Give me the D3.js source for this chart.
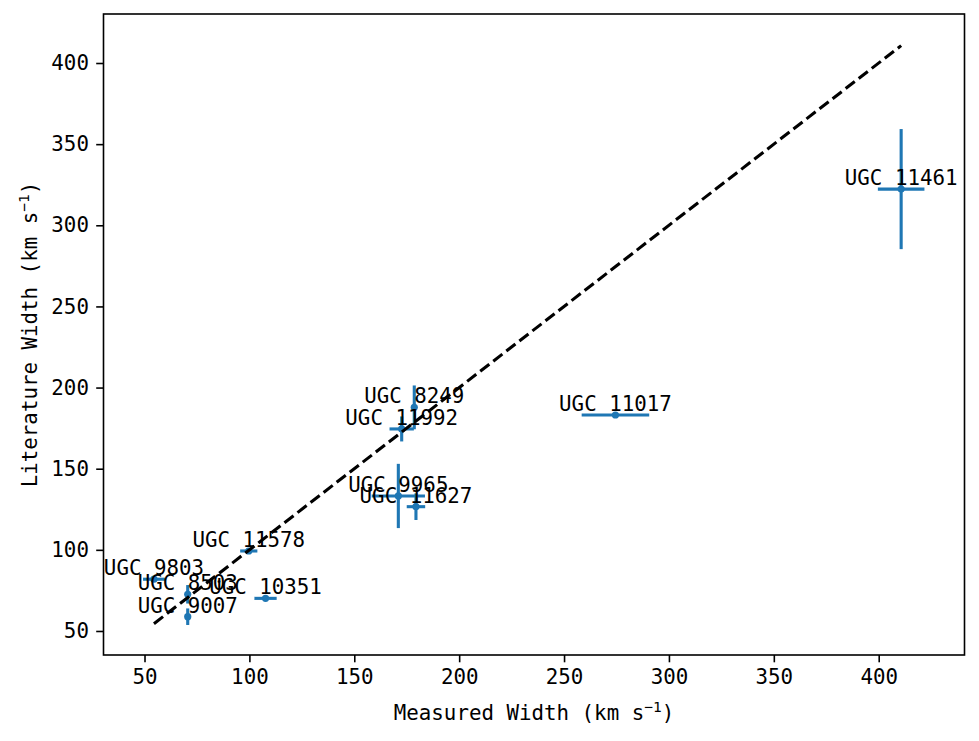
<!DOCTYPE html>
<html>
<head>
<meta charset="utf-8">
<script src="https://cdn.jsdelivr.net/npm/d3@7"></script>
<style>
  body { margin: 0; background: #fff; }
  text { font-family: "DejaVu Sans Mono", monospace; fill: #000; }
</style>
</head>
<body>
<div id="chart"></div>
<script>
// galaxy names and widths (km/s)
const galaxies = ['UGC 9803', 'UGC 8503', 'UGC 9007', 'UGC 11578', 'UGC 10351', 'UGC 9965',
  'UGC 11627', 'UGC 11992', 'UGC 8249', 'UGC 11017', 'UGC 11461']
const measured = [54.5, 70.6, 70.6, 99.7, 107.7, 171.0, 179.4, 172.6, 178.6, 274.5, 410.7]
const measuredErr = [5.2, 0.8, 0.8, 4.1, 5.3, 12.7, 4.4, 5.8, 0.8, 16.1, 11.1]
const literature = [81.9, 72.6, 58.8, 99.3, 70.1, 133.2, 126.6, 174.5, 187.8, 183.1, 322.3]
const literatureErr = [1.0, 5.7, 5.1, 1.0, 1.0, 19.8, 8.2, 7.7, 13.5, 1.0, 37.0]
const xTicks = [50, 100, 150, 200, 250, 300, 350, 400]
const yTicks = [50, 100, 150, 200, 250, 300, 350, 400]

const W = 979, H = 741
const margin = { top: 14, left: 103.5, right: 14.5, bottom: 86 }
const width = W - margin.left - margin.right
const height = H - margin.top - margin.bottom

const svg = d3.select('#chart').append('svg')
  .attr('width', W)
  .attr('height', H)

const g = svg.append('g')
  .attr('transform', 'translate(' + margin.left + ',' + margin.top + ')')

const x = d3.scaleLinear().domain([30.45, 440.9]).range([0, width])
const y = d3.scaleLinear().domain([35.2, 430.2]).range([height, 0])

const blue = '#1f77b4'
const fontSize = 20.8

const data = galaxies.map((name, i) => ({
  name,
  x: measured[i], xe: measuredErr[i],
  y: literature[i], ye: literatureErr[i]
}))

// error bars
const bars = g.append('g')
bars.selectAll('line.xe').data(data).enter().append('line')
  .attr('x1', d => x(d.x - d.xe)).attr('x2', d => x(d.x + d.xe))
  .attr('y1', d => y(d.y)).attr('y2', d => y(d.y))
  .attr('stroke', blue).attr('stroke-width', 3.1)
bars.selectAll('line.ye').data(data).enter().append('line')
  .attr('x1', d => x(d.x)).attr('x2', d => x(d.x))
  .attr('y1', d => y(d.y - d.ye)).attr('y2', d => y(d.y + d.ye))
  .attr('stroke', blue).attr('stroke-width', 3.1)
bars.selectAll('circle').data(data).enter().append('circle')
  .attr('cx', d => x(d.x)).attr('cy', d => y(d.y))
  .attr('r', 3.6).attr('fill', blue)

// one-to-one line
const lo = d3.min(measured), hi = d3.max(measured)
g.append('line')
  .attr('x1', x(lo)).attr('y1', y(lo))
  .attr('x2', x(hi)).attr('y2', y(hi))
  .attr('stroke', '#000').attr('stroke-width', 3.1)
  .attr('stroke-dasharray', '11.5,5')

// labels
g.selectAll('text.lab').data(data).enter().append('text')
  .attr('class', 'lab')
  .attr('x', d => x(d.x))
  .attr('y', d => y(d.y) - 4)
  .attr('text-anchor', 'middle')
  .style('font-size', fontSize + 'px')
  .text(d => d.name)

// frame
g.append('rect')
  .attr('width', width).attr('height', height)
  .attr('fill', 'none').attr('stroke', '#000').attr('stroke-width', 1.6)

// x axis
const xAxis = g.append('g').attr('transform', 'translate(0,' + height + ')')
  .call(d3.axisBottom(x).tickValues(xTicks).tickSize(7.3).tickPadding(7.3))
xAxis.select('.domain').remove()
xAxis.selectAll('line').attr('stroke', '#000').attr('stroke-width', 1.6)
xAxis.selectAll('text').style('font-size', fontSize + 'px').attr('font-family', null)

const yAxis = g.append('g')
  .call(d3.axisLeft(y).tickValues(yTicks).tickSize(7.3).tickPadding(7.3))
yAxis.select('.domain').remove()
yAxis.selectAll('line').attr('stroke', '#000').attr('stroke-width', 1.6)
yAxis.selectAll('text').style('font-size', fontSize + 'px').attr('font-family', null)

// axis titles
const xl = svg.append('text')
  .attr('x', margin.left + width / 2)
  .attr('y', 720)
  .attr('text-anchor', 'middle')
  .style('font-size', fontSize + 'px')
xl.append('tspan').text('Measured Width (km s')
xl.append('tspan').attr('dy', -8).style('font-size', '14.5px').text('\u22121')
xl.append('tspan').attr('dy', 8).text(')')

const yl = svg.append('text')
  .attr('transform', 'translate(37,' + (margin.top + height / 2) + ') rotate(-90)')
  .attr('text-anchor', 'middle')
  .style('font-size', fontSize + 'px')
yl.append('tspan').text('Literature Width (km s')
yl.append('tspan').attr('dy', -8).style('font-size', '14.5px').text('\u22121')
yl.append('tspan').attr('dy', 8).text(')')
</script>
</body>
</html>
